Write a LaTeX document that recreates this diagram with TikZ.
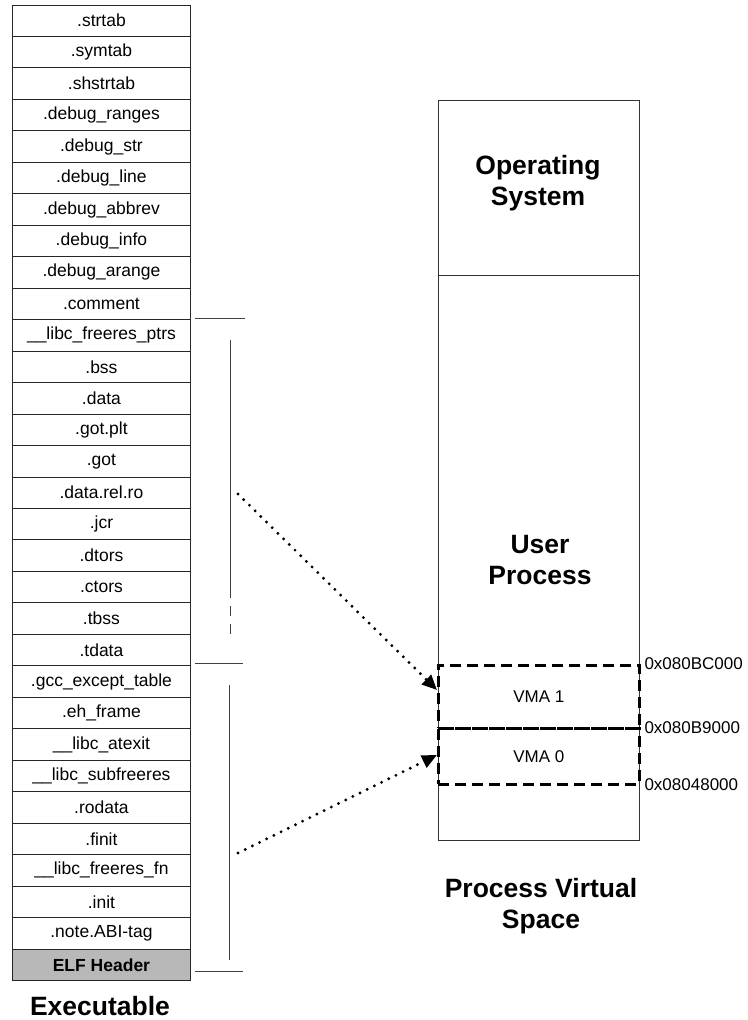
\documentclass[tikz,border=0pt]{standalone}
\usepackage{fontspec}
\setmainfont{Liberation Sans}
\usetikzlibrary{arrows.meta}
\begin{document}
\begin{tikzpicture}[x=1pt,y=-1pt,
  sec/.style={draw=black!85, line width=0.9pt, minimum width=178pt, minimum height=31.47pt,
              inner sep=0pt, font=\fontsize{17.5}{20}\selectfont, anchor=north west},
  elf/.style={sec, fill=black!28, font=\fontsize{17.5}{20}\bfseries\selectfont},
  region/.style={draw=black!80, line width=1.1pt, minimum width=201pt, inner sep=0pt, anchor=north west},
  title/.style={font=\fontsize{26.5}{31}\bfseries\selectfont, align=center},
  lbl/.style={font=\fontsize{17}{20}\selectfont},
  vma/.style={draw=black, line width=2.6pt, dash pattern=on 11pt off 6pt,
              minimum width=201pt, inner sep=0pt, anchor=north west, font=\fontsize{17}{20}\selectfont},
  map/.style={line width=3.2pt, line cap=round, dash pattern=on 0pt off 8pt,
              -{Triangle[length=15pt,width=13pt]}},
  brk/.style={draw=black!75, line width=0.9pt}
]
\useasboundingbox (0,0) rectangle (747,1020);

% executable sections
\foreach \t [count=\i from 0] in {.strtab,.symtab,.shstrtab,.debug\_ranges,.debug\_str,.debug\_line,
  .debug\_abbrev,.debug\_info,.debug\_arange,.comment,\_\_libc\_freeres\_ptrs,.bss,.data,.got.plt,
  .got,.data.rel.ro,.jcr,.dtors,.ctors,.tbss,.tdata,.gcc\_except\_table,.eh\_frame,\_\_libc\_atexit,
  \_\_libc\_subfreeres,.rodata,.finit,\_\_libc\_freeres\_fn,.init,.note.ABI-tag}
  \node[sec] (r\i) at (12,{4.5+31.47*\i}) {\t};
\node[elf] (elf) at (12,{4.5+31.47*30}) {ELF Header};

% segment brackets
\draw[brk] (195,318) -- (245,318);
\draw[brk] (230,340) -- (230,598);
\draw[brk, dash pattern=on 10pt off 8pt] (230,606) -- (230,640);
\draw[brk] (195,663) -- (243,663);
\draw[brk] (229,685) -- (229,960);
\draw[brk] (195,971) -- (243,971);

% process virtual space
\node[region, minimum height=175pt] (os) at (438,100) {};
\node[region, minimum height=565pt] (up) at (438,275) {};
\node[title] (ostxt) at (538,183) {Operating\\System};
\node[title] (uptxt) at (540,560) {User\\Process};

\node[vma, minimum height=63pt] (vma1) at (437,664) {VMA 1};
\node[vma, minimum height=56pt] (vma0) at (437,727) {VMA 0};

\node[lbl, anchor=west] (a1) at (641,664) {0x080BC000};
\node[lbl, anchor=west] (a2) at (641,728) {0x080B9000};
\node[lbl, anchor=west] (a3) at (641,785) {0x08048000};

% mappings
\coordinate (s1) at (238,494);
\coordinate (s0) at (238,853);
\coordinate (e1) at (437,690);
\coordinate (e0) at (437,755);
\draw[map] (s1) -- (e1);
\draw[map] (s0) -- (e0);

% captions
\node[title] (pvs) at (541,906) {Process Virtual\\Space};
\node[title] (exe) at (100,1006) {Executable};
\end{tikzpicture}
\end{document}
